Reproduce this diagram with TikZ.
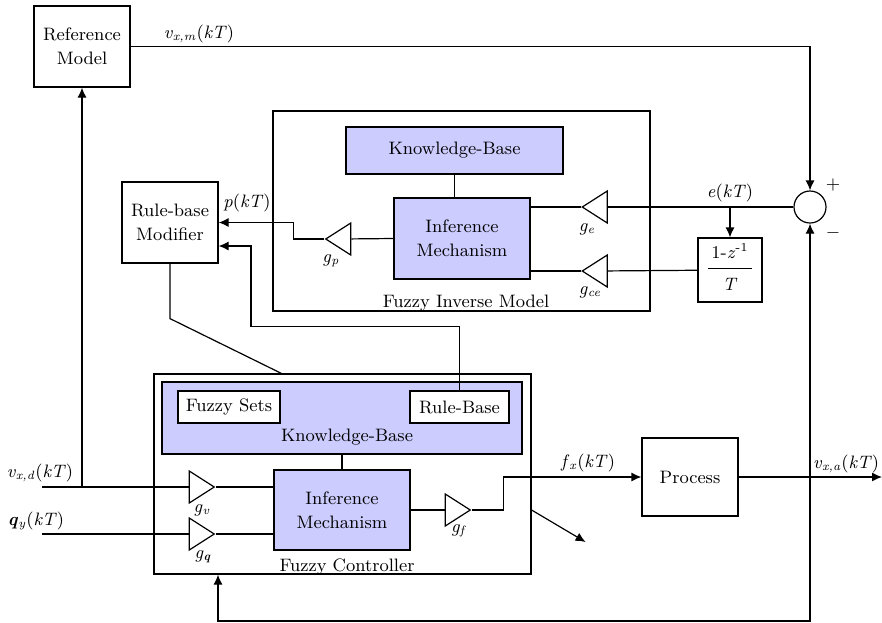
\documentclass[tikz,border=0pt]{standalone}
\usetikzlibrary{shapes.geometric,calc,arrows.meta}
\definecolor{lav}{RGB}{204,204,255}

\begin{document}
\begin{tikzpicture}[x=0.5pt,y=-0.5pt,font=\rmfamily\fontsize{9}{11.8}\selectfont,line width=0.6pt,
>={Latex[length=5pt,width=4.5pt]},
blk/.style={rectangle, draw, align=center, inner sep=0pt},
kbfill/.style={blk, fill=lav},
amp/.style={isosceles triangle, isosceles triangle stretches, draw, inner sep=0pt, minimum width=16pt, minimum height=12.5pt},
ampl/.style={amp, shape border rotate=180}]
\useasboundingbox (0,0) rectangle (882,622);
\path (82,46.5) node[blk, minimum width=48pt, minimum height=40.5pt](refmod) {Reference\\Model}
(170,222.5) node[blk, minimum width=48pt, minimum height=40.5pt](rbm) {Rule-base\\Modifier}
(461.5,211) node[blk, minimum width=188.5pt, minimum height=100pt](fim) {}
(454.5,150.5) node[kbfill, minimum width=108.5pt, minimum height=23.5pt](kbinv) {Knowledge-Base}
(462,238.5) node[kbfill, minimum width=68pt, minimum height=40.5pt](iminv) {Inference\\Mechanism}
(466,303) node(fimlbl) {Fuzzy Inverse Model}
(598.5,207) node[ampl](ge) {}
(598.5,271) node[ampl](gce) {}
(342,239) node[ampl](gp) {}
(730,270) node[blk, minimum size=32pt](dz) {\begin{tabular}{@{\,}c@{\,}}1-\textit{z}\textsuperscript{-1}\\[1pt]\hline\rule{0pt}{11pt}\textit{T}\end{tabular}}
(810,207) node[circle, draw, minimum size=16pt, inner sep=0pt](sum) {}
(342.5,474) node[blk, minimum width=188.5pt, minimum height=100pt](fc) {}
(342,418) node[kbfill, minimum width=180pt, minimum height=36pt](kbfc) {}
(229,407) node[blk, fill=white, minimum width=51pt, minimum height=16pt](fs) {Fuzzy Sets}
(459.5,407) node[blk, fill=white, minimum width=49.5pt, minimum height=16pt](rb) {Rule-Base}
(347,437) node(kblbl) {Knowledge-Base}
(342,510) node[kbfill, minimum width=68pt, minimum height=40pt](imfc) {Inference\\Mechanism}
(347,567) node(fclbl) {Fuzzy Controller}
(198,487) node[amp](gv) {}
(198,534) node[amp](gq) {}
(454,510) node[amp](gf) {}
(690,477) node[blk, minimum width=48pt, minimum height=39pt](proc) {Process};
% signal and gain labels
\path (199,34) node(vxm) {\textit{v}\textsubscript{\textit{x,m}}(\textit{kT})}
(247,203) node(pkt) {\textit{p}(\textit{kT})}
(730,193) node(ekt) {\textit{e}(\textit{kT})}
(833,185) node(plus) {+}
(833,233) node(minus) {$-$}
(587,229) node(gelbl) {\textit{g}\textsubscript{\textit{e}}}
(590,292) node(gcelbl) {\textit{g}\textsubscript{\textit{ce}}}
(331,261) node(gplbl) {\textit{g}\textsubscript{\textit{p}}}
(202,510) node(gvlbl) {\textit{g}\textsubscript{\textit{v}}}
(203,557) node(gqlbl) {\textit{g}\textsubscript{\textbf{\textit{q}}}}
(459,531) node(gflbl) {\textit{g}\textsubscript{\textit{f}}}
(40,473) node(vxd) {\textit{v}\textsubscript{\textit{x,d}}(\textit{kT})}
(36,521) node(qy) {\textbf{\textit{q}}\textsubscript{\textit{y}}(\textit{kT})}
(588,463) node(fx) {\textit{f}\textsubscript{\textit{x}}(\textit{kT})}
(846,464) node(vxa) {\textit{v}\textsubscript{\textit{x,a}}(\textit{kT})};
\coordinate (vin) at (42,487);
\coordinate (qin) at (42,534);
\coordinate (vbr) at (82,487);
\coordinate (ebr) at (730,207);
\coordinate (vout) at (882,477);
\coordinate (fbl) at (218,621);
\draw[->] (refmod.east) -| (sum.north);
\draw (sum.west) -- (ge);
\draw (ge) -- (ge -| iminv.east);
\draw[->] (ebr) -- (dz.north);
\draw (dz) -- (gce);
\draw (gce) -- (gce -| iminv.east);
\draw (kbinv.south) -- (kbinv.south |- iminv.north);
\draw (iminv.west) -- (gp);
\draw[->] (gp.west) -- ++(-31,0) |- (rbm.east);
\draw[->] (rb.north) |- ++(-208.5,-64) |- ($(rbm.east)+(0,23.5)$);
\draw (rbm.south) -- ++(0,55) -- ($(fc.north west)+(128,0)$);
\draw (kbfc.south) -- (imfc.north);
\draw (vin) -- (gv);
\draw (gv) -- (gv -| imfc.west);
\draw (qin) -- (gq);
\draw (gq) -- (gq -| imfc.west);
\draw[->] (vbr) -- (refmod.south);
\draw (imfc) -- (gf);
\draw[->] (gf.east) -- ++(32,0) |- (proc.west);
\draw[->] ($(fc.east)+(0,36)$) -- ++(54,32);
\draw[->] (proc) -- (vout);
\draw[<->] (sum.south) |- (fbl) -- (fbl |- fc.south);
\end{tikzpicture}
\end{document}
